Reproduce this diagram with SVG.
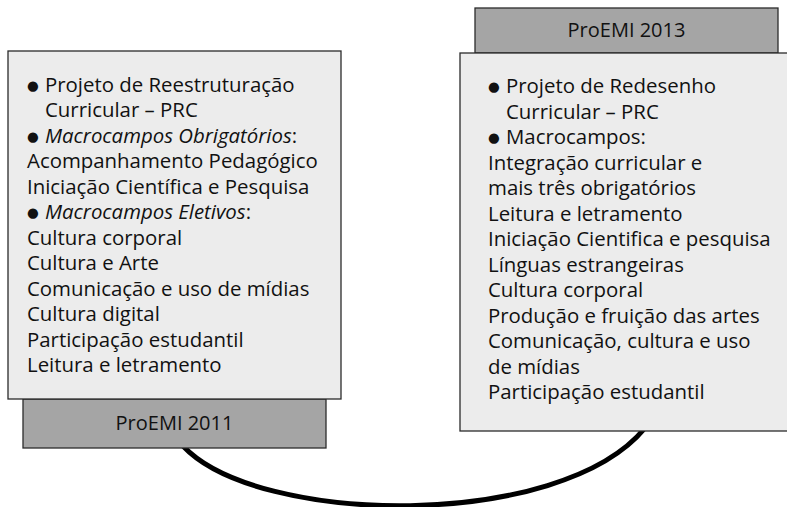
<svg xmlns="http://www.w3.org/2000/svg" width="787" height="507" viewBox="0 0 787 507">
<style>
.box{fill:#ececec;stroke:#2b2b2b;stroke-width:1.3}
.hdr{fill:#a5a5a5;stroke:#2b2b2b;stroke-width:1.3}
.t{font-family:"Open Sans","Noto Sans","DejaVu Sans",sans-serif;font-size:20.4px;fill:#111}
.lbl{font-family:"Open Sans","Noto Sans","DejaVu Sans",sans-serif;font-size:20px;fill:#111;text-anchor:middle}
.b{font-family:"DejaVu Sans",sans-serif;font-size:13.5px}
.i{font-style:italic}
.arc{fill:none;stroke:#000;stroke-width:5}
</style>
<g id="connectors">
<path class="arc" d="M183,446 C258,526 560,531 645,428"/>
</g>
<g id="proemi2011">
<rect class="hdr" x="23" y="399" width="303" height="49"/>
<text class="lbl" x="174.5" y="430">ProEMI 2011</text>
<rect class="box" x="8" y="51" width="333" height="348"/>
<text class="t">
<tspan x="27" y="91.5"><tspan class="b" dy="-2">●</tspan></tspan><tspan x="45" y="91.5">Projeto de Reestruturação</tspan>
<tspan x="45" y="117">Curricular – PRC</tspan>
<tspan x="27" y="142.5"><tspan class="b" dy="-2">●</tspan></tspan><tspan x="45" y="142.5"><tspan class="i">Macrocampos Obrigatórios</tspan>:</tspan>
<tspan x="27" y="168">Acompanhamento Pedagógico</tspan>
<tspan x="27" y="193.5">Iniciação Científica e Pesquisa</tspan>
<tspan x="27" y="219"><tspan class="b" dy="-2">●</tspan></tspan><tspan x="45" y="219"><tspan class="i">Macrocampos Eletivos</tspan>:</tspan>
<tspan x="27" y="244.5">Cultura corporal</tspan>
<tspan x="27" y="270">Cultura e Arte</tspan>
<tspan x="27" y="295.5">Comunicação e uso de mídias</tspan>
<tspan x="27" y="321">Cultura digital</tspan>
<tspan x="27" y="346.5">Participação estudantil</tspan>
<tspan x="27" y="372">Leitura e letramento</tspan>
</text>
</g>
<g id="proemi2013">
<rect class="hdr" x="475" y="8" width="303" height="45"/>
<text class="lbl" x="626.5" y="37">ProEMI 2013</text>
<rect class="box" x="460" y="53" width="340" height="378"/>
<text class="t">
<tspan x="488" y="93.3"><tspan class="b" dy="-2">●</tspan></tspan><tspan x="506" y="93.3">Projeto de Redesenho</tspan>
<tspan x="506" y="118.8">Curricular – PRC</tspan>
<tspan x="488" y="144.3"><tspan class="b" dy="-2">●</tspan></tspan><tspan x="506" y="144.3">Macrocampos:</tspan>
<tspan x="488" y="169.8">Integração curricular e</tspan>
<tspan x="488" y="195.3">mais três obrigatórios</tspan>
<tspan x="488" y="220.8">Leitura e letramento</tspan>
<tspan x="488" y="246.3">Iniciação Cientifica e pesquisa</tspan>
<tspan x="488" y="271.8">Línguas estrangeiras</tspan>
<tspan x="488" y="297.3">Cultura corporal</tspan>
<tspan x="488" y="322.8">Produção e fruição das artes</tspan>
<tspan x="488" y="348.3">Comunicação, cultura e uso</tspan>
<tspan x="488" y="373.8">de mídias</tspan>
<tspan x="488" y="399.3">Participação estudantil</tspan>
</text>
</g>
</svg>
